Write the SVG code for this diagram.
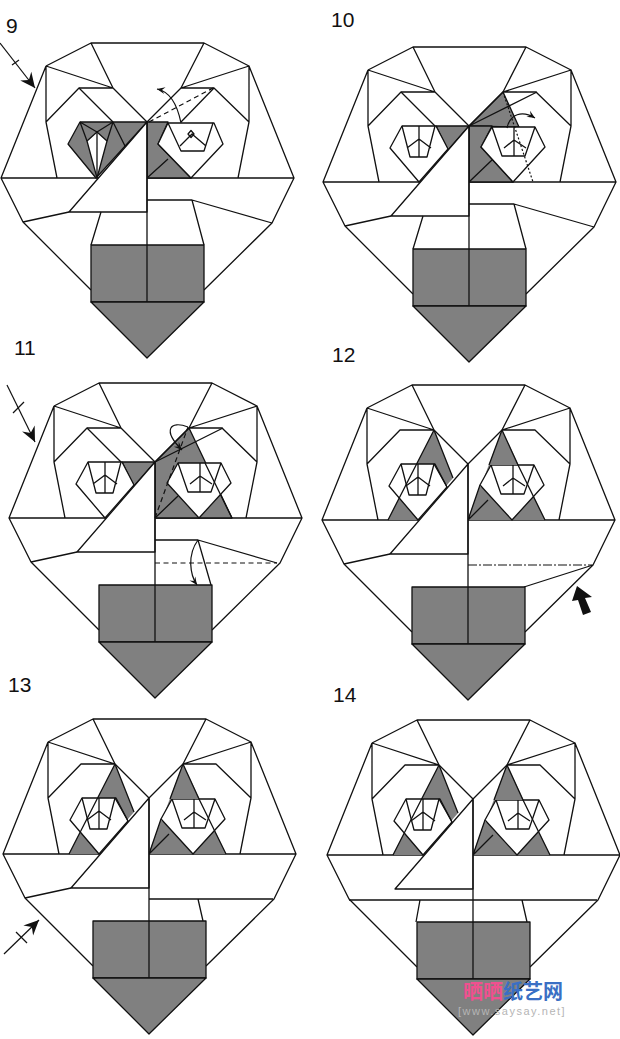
<svg xmlns="http://www.w3.org/2000/svg" width="620" height="1039" viewBox="0 0 620 1039">
<style>
.l{fill:none;stroke:#111;stroke-width:1.3;stroke-linejoin:round}
.w{fill:#fff;stroke:#111;stroke-width:1.3;stroke-linejoin:round}
.g{fill:#808080;stroke:#111;stroke-width:1.3;stroke-linejoin:round}
.f{fill:#808080;stroke:none}
.a{fill:none;stroke:#111;stroke-width:1.2}
.d{fill:none;stroke:#111;stroke-width:1.2;stroke-dasharray:5 3.5}
.n{font-family:"Liberation Sans",Arial,sans-serif;font-size:21px;fill:#111}
</style>
<defs>
<marker id="big" viewBox="-16 -8 17 16" refX="0" refY="0" markerWidth="17" markerHeight="16" markerUnits="userSpaceOnUse" orient="auto"><path d="M-15 -7L0 0L-15 7L-10 0Z" fill="#111"/></marker>
<marker id="small" viewBox="-9 -5 10 10" refX="0" refY="0" markerWidth="10" markerHeight="10" markerUnits="userSpaceOnUse" orient="auto"><path d="M-8 -3.500L0 0L-8 3.500L-5 0Z" fill="#111"/></marker>
<g id="shell">
<path class="l" d="M46 66L91 43H204L249 66L294 178L272 223L204 290M46 66L1 178L23 222L91 290M46 66L113 88L91 43M46 66V122L57 178M46 122L79 88H113M113 88L147 122M204 43L181 88L249 66V122L238 178M181 88H214L249 122M1 178H294"/>
</g>
<path id="diag" class="l" d="M79 88L113 122"/>
<g id="base">
<rect class="g" x="91" y="245" width="113" height="57"/>
<path class="g" d="M91 302H204L147 358Z"/>
</g>
<g id="flap">
<path class="w" d="M147 122L69 212H147Z"/>
</g>
<path id="spine" class="l" d="M147 122V302M147 122L181 88"/>
<path id="eyeL" class="w" d="M80 122H114L126 145L97 178L68 144Z"/>
<path id="eyeR" class="w" d="M170 123H213L223 143L191 178L159 143Z"/>
<path id="penL" class="l" d="M80 122L88 153H105L113 122M97 122V153M85 144L97 135L109 144"/>
<path id="penR" class="l" d="M170 123L180 152H203L213 123M192 123V152M182 144L192 136L204 144"/>
<g id="gaze">
<path class="f" d="M113 88L132 136L96 178H67Z"/>
<path class="f" d="M181 88L224 178H147Z"/>
<use href="#eyeL"/><use href="#eyeR"/>
<use href="#penL"/><use href="#penR"/>
<path class="f" d="M147 177L167 159L159 143L152 163Z"/>
<path class="f" d="M181 88L168 123H197Z"/>
<path class="l" d="M113 88L132 136M113 88L67 178M113 122L126 145M181 88L168 123M181 88L197 123L224 178M147 178L167 158M159 143L147 178"/>
</g>
</defs>

<g id="step-9">
<use href="#shell"/><use href="#diag"/>
<path class="l" d="M181 122L214 88"/>
<path class="g" d="M80 122H147L96 178L68 144Z"/>
<path class="w" d="M97 132L87 141L97 178L107 141Z"/>
<path class="l" d="M80 122L87 141M113 122L107 141M80 122L97 132L113 122M97 132V178M113 122L125 146"/>
<path class="g" d="M147 122H168L158 144L191 178H147Z"/>
<path class="w" d="M168 123H214L223 144L191 178L158 144Z"/>
<path class="l" d="M168 123L181 151H204L213 123M180 146L192 134L206 146M147 178L168 159M191 130.500L194 134L191 137.500L188 134Z"/>
<use href="#flap"/>
<path class="l" d="M69 212L23 222M101 212L91 245M147 200H192L272 223M192 200L204 245"/>
<use href="#base"/><use href="#spine"/>
</g>

<g id="step-10" transform="translate(322 4)">
<use href="#shell"/><use href="#diag"/>
<path class="g" d="M147 122L181 88L197 123Z"/>
<path class="g" d="M147 122H170L159 143L191 178H147Z"/>
<path class="g" d="M114 122H147L126 146Z"/>
<use href="#eyeL"/><use href="#eyeR"/>
<use href="#penL"/><use href="#penR"/>
<path class="l" d="M147 122L215 88M147 178L170 156"/>
<use href="#flap"/>
<path class="l" d="M69 212L23 222M101 212L91 245M147 200H192L272 223M192 200L204 245"/>
<use href="#base"/><use href="#spine"/>
</g>

<g id="step-11" transform="translate(8 340)">
<use href="#shell"/><use href="#diag"/>
<path class="g" d="M147 122L181 88L224 178H147Z"/>
<path class="g" d="M114 122H147L126 146Z"/>
<use href="#eyeL"/><use href="#eyeR"/>
<use href="#penL"/><use href="#penR"/>
<path class="l" d="M147 122L215 88M197 123L224 178M147 178L170 156"/>
<use href="#flap"/>
<path class="l" d="M69 212L23 222M147 200H190L269 223M190 200L203 245"/>
<use href="#base"/><use href="#spine"/>
</g>

<g id="step-12" transform="translate(321 342)">
<use href="#shell"/>
<use href="#gaze"/>
<use href="#flap"/>
<path class="l" d="M69 212L23 222M272 223L203 245"/>
<use href="#base"/><use href="#spine"/>
</g>

<g id="step-13" transform="translate(2 676)">
<use href="#shell"/>
<use href="#gaze"/>
<use href="#flap"/>
<path class="l" d="M69 212L23 222M147 223H271M196 223L201 245"/>
<use href="#base"/><use href="#spine"/>
</g>

<g id="step-14" transform="translate(326 677)">
<use href="#shell"/>
<use href="#gaze"/>
<use href="#flap"/>
<path class="l" d="M23 223H271M94 223L90 245M196 223L201 245"/>
<use href="#base"/><use href="#spine"/>
</g>

<g id="connectors">
<path class="a" d="M0 43L35 88" marker-end="url(#big)"/>
<path class="a" d="M12 65L19 60"/>
<path class="d" d="M149 122L213 88"/>
<path class="a" d="M181 123C178 108 172 92 157 89" marker-end="url(#small)"/>
<path d="M503 92L533 182" fill="none" stroke="#111" stroke-width="1.2" stroke-dasharray="2 2"/>
<path class="a" d="M507 128C510 114 522 110 535 118" marker-end="url(#small)"/>
<path class="a" d="M7 385L35 442" marker-end="url(#big)"/>
<path class="a" d="M13 413L24 402"/>
<path class="d" d="M155 518L188 427"/>
<path class="a" d="M188 427C170 420 162 430 182 450" marker-end="url(#small)"/>
<path class="d" d="M155 563H277"/>
<path class="a" d="M198 540C187 555 190 575 197 585" marker-end="url(#small)"/>
<path d="M468 565H592" fill="none" stroke="#111" stroke-width="1.2" stroke-dasharray="9 2 2 2"/>
<path d="M577 586L592 597L585 598L591 612L583 615L578 600L572 601Z" fill="#111"/>
<path class="a" d="M4 954L39 920" marker-end="url(#big)"/>
<path class="a" d="M16 932L27 943"/>
</g>

<g id="labels">
<text class="n" x="6" y="33">9</text>
<text class="n" x="331" y="27">10</text>
<text class="n" x="14" y="355">11</text>
<text class="n" x="332" y="362">12</text>
<text class="n" x="8" y="692">13</text>
<text class="n" x="333" y="702">14</text>
</g>
<g id="watermark">
<text x="463" y="999" font-family="'Noto Sans CJK SC',sans-serif" font-size="20" font-weight="700" fill="#f0508f">晒晒</text>
<text x="503" y="999" font-family="'Noto Sans CJK SC',sans-serif" font-size="20" font-weight="700" fill="#3a6fc4">纸艺网</text>
<text x="458" y="1015" font-family="'Liberation Sans',Arial,sans-serif" font-size="11" letter-spacing="1.500" fill="#b5b5b5">[www.saysay.net]</text>
</g>
</svg>
